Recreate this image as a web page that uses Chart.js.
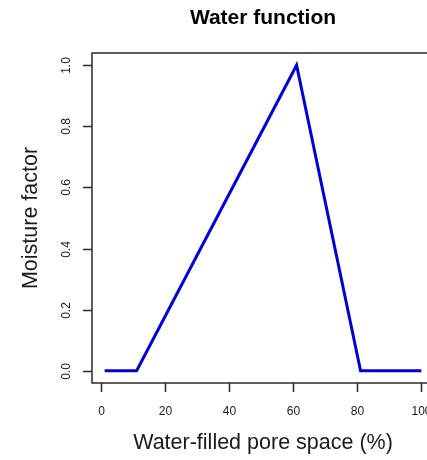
<!DOCTYPE html>
<html>
<head>
<meta charset="utf-8">
<title>Water function</title>
<script src="https://cdn.jsdelivr.net/npm/chart.js@4.4.1/dist/chart.umd.min.js"></script>
<style>
    html, body { margin: 0; padding: 0; overflow: hidden; background: #fff; }
    #wrap { width: 440px; height: 460px; }
</style>
</head>
<body>
<div id="wrap"><canvas id="waterChart"></canvas></div>
<script>
    // water-filled pore space (%) at the break points of the curve
    var wfps = [1, 11, 61, 81, 100];
    // moisture factor at those points
    var moisture = [0, 0, 1, 0, 0];

    var xTicks = [0, 20, 40, 60, 80, 100];
    var yTicks = [0, 0.2, 0.4, 0.6, 0.8, 1.0];

    var chartTitle = 'Water function';
    var xTitle = 'Water-filled pore space (%)';
    var yTitle = 'Moisture factor';

    var FONT = '"Liberation Sans", Arial, Helvetica, sans-serif';

    /*******************************************************************
     * R style frame: box, outward ticks, rotated y labels, titles
     *******************************************************************/
    var frame = {
        id: 'frame',
        afterDraw: function (chart) {
            var ctx = chart.ctx;
            var area = chart.chartArea;
            var xs = chart.scales.x;
            var ys = chart.scales.y;
            var tickLen = 9;

            ctx.save();
            ctx.strokeStyle = '#2a2a2a';
            ctx.lineWidth = 1.5;
            ctx.strokeRect(area.left, area.top, area.right - area.left, area.bottom - area.top);

            ctx.fillStyle = '#1a1a1a';
            ctx.font = '12px ' + FONT;

            // x ticks + labels
            ctx.textAlign = 'center';
            ctx.textBaseline = 'middle';
            xTicks.forEach(function (v) {
                var px = Math.round(xs.getPixelForValue(v)) + 0.5;
                ctx.beginPath();
                ctx.moveTo(px, area.bottom);
                ctx.lineTo(px, area.bottom + tickLen);
                ctx.stroke();
                ctx.fillText(String(v), px, area.bottom + 29);
            });

            // y ticks + labels (rotated, reading upwards)
            yTicks.forEach(function (v) {
                var py = Math.round(ys.getPixelForValue(v)) + 0.5;
                ctx.beginPath();
                ctx.moveTo(area.left, py);
                ctx.lineTo(area.left - tickLen, py);
                ctx.stroke();
                ctx.save();
                ctx.translate(area.left - 25, py);
                ctx.rotate(-Math.PI / 2);
                ctx.fillText(v.toFixed(1), 0, 0);
                ctx.restore();
            });

            var midX = (area.left + area.right) / 2;
            var midY = (area.top + area.bottom) / 2;

            ctx.font = '21.5px ' + FONT;
            ctx.fillText(xTitle, midX, 443);

            ctx.save();
            ctx.translate(31, midY);
            ctx.rotate(-Math.PI / 2);
            ctx.fillText(yTitle, 0, 0);
            ctx.restore();

            ctx.fillStyle = '#000';
            ctx.font = 'bold 21px ' + FONT;
            ctx.fillText(chartTitle, midX, 18);
            ctx.restore();
        }
    };

    var points = wfps.map(function (x, i) {
        return { x: x, y: moisture[i] };
    });

    new Chart(document.getElementById('waterChart'), {
        type: 'line',
        data: {
            datasets: [{
                data: points,
                borderColor: '#0000d8',
                borderWidth: 3,
                pointRadius: 0,
                tension: 0,
                fill: false
            }]
        },
        options: {
            responsive: true,
            maintainAspectRatio: false,
            animation: false,
            layout: {
                padding: { left: 92, top: 53, right: 6, bottom: 77 }
            },
            plugins: {
                legend: { display: false },
                tooltip: { enabled: false }
            },
            scales: {
                x: {
                    type: 'linear',
                    display: false,
                    min: -2.96,
                    max: 103.96
                },
                y: {
                    type: 'linear',
                    display: false,
                    min: -0.04,
                    max: 1.04
                }
            }
        },
        plugins: [frame]
    });
</script>
</body>
</html>
